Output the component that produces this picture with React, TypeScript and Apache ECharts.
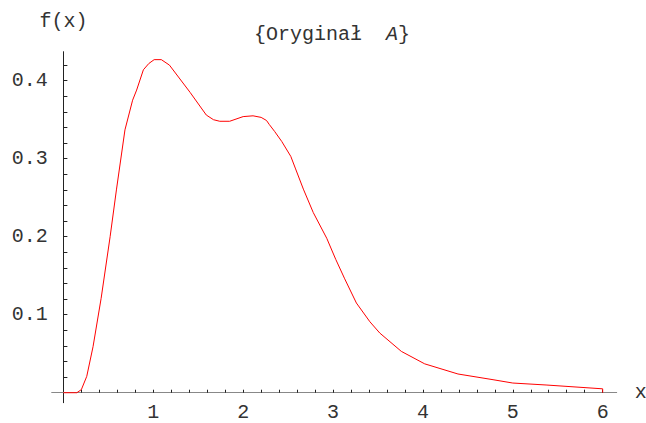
import React, { useEffect, useRef } from "react";
import * as echarts from "echarts";

const xs = [0, 0.15, 0.2, 0.26, 0.33, 0.42, 0.52, 0.59, 0.685, 0.77, 0.815, 0.89, 0.95, 1.01, 1.09, 1.18, 1.41, 1.59, 1.67, 1.74, 1.85, 2.0, 2.11, 2.2, 2.26, 2.29, 2.35, 2.43, 2.53, 2.58, 2.67, 2.78, 2.93, 3.03, 3.13, 3.26, 3.41, 3.52, 3.76, 4.02, 4.39, 4.78, 5.0, 5.37, 6.0, 6.0];
const ys = [0, 0, 0.004, 0.021, 0.059, 0.121, 0.2, 0.26, 0.337, 0.375, 0.388, 0.414, 0.422, 0.427, 0.427, 0.42, 0.385, 0.356, 0.35, 0.348, 0.348, 0.354, 0.355, 0.353, 0.349, 0.344, 0.335, 0.322, 0.303, 0.288, 0.261, 0.231, 0.198, 0.171, 0.146, 0.115, 0.091, 0.0765, 0.053, 0.037, 0.024, 0.0167, 0.0124, 0.0099, 0.005, 0];

const xTicks = [0.2, 0.4, 0.6, 0.8, 1, 1.2, 1.4, 1.6, 1.8, 2, 2.2, 2.4, 2.6, 2.8, 3, 3.2, 3.4, 3.6, 3.8, 4, 4.2, 4.4, 4.6, 4.8, 5, 5.2, 5.4, 5.6, 5.8, 6];
const xLabels = [1, 2, 3, 4, 5, 6];
const yTicks = [0.02, 0.04, 0.06, 0.08, 0.1, 0.12, 0.14, 0.16, 0.18, 0.2, 0.22, 0.24, 0.26, 0.28, 0.3, 0.32, 0.34, 0.36, 0.38, 0.4, 0.42];
const yLabels = [0.1, 0.2, 0.3, 0.4];

const FONT = "'Courier New', 'Liberation Mono', monospace";
const TXT = "#333";

export default function App() {
  const ref = useRef<HTMLDivElement>(null);
  useEffect(() => {
    const chart = echarts.init(ref.current!, null, { renderer: "svg" });
    chart.setOption({
      animation: false,
      backgroundColor: "#ffffff",
      title: {
        text: "{Oryginał  {i|A}}",
        left: 249,
        top: 19,
        textStyle: {
          fontFamily: FONT,
          fontSize: 20,
          fontWeight: "normal",
          color: TXT,
          rich: {
            i: { fontFamily: FONT, fontSize: 20, fontStyle: "italic", color: TXT },
          },
        },
      },
      grid: { left: 51.7, top: 51.7, width: 565, height: 351, containLabel: false, outerBoundsMode: "none" },
      xAxis: {
        type: "value",
        min: -0.13,
        max: 6.156,
        name: "x",
        nameLocation: "end",
        nameGap: 18,
        nameTextStyle: { fontFamily: FONT, fontSize: 20, color: TXT },
        splitLine: { show: false },
        axisLine: { show: true, onZero: true, lineStyle: { color: "#888", width: 1 } },
        axisTick: { show: true, inside: true, length: 3, customValues: xTicks, lineStyle: { color: "#222" } },
        axisLabel: {
          customValues: xLabels,
          margin: 0,
          fontFamily: FONT,
          fontSize: 20,
          color: TXT,
          formatter: (v: number) => String(v),
        },
      },
      yAxis: {
        type: "value",
        min: -0.0128,
        max: 0.4372,
        name: "f(x)",
        nameLocation: "end",
        nameGap: 20,
        nameTextStyle: { fontFamily: FONT, fontSize: 20, color: TXT, align: "center" },
        splitLine: { show: false },
        axisLine: { show: true, onZero: true, lineStyle: { color: "#222", width: 1 } },
        axisTick: { show: true, inside: true, length: 4, customValues: yTicks, lineStyle: { color: "#222" } },
        axisLabel: {
          customValues: yLabels,
          margin: 4,
          fontFamily: FONT,
          fontSize: 20,
          color: TXT,
          formatter: (v: number) => v.toFixed(1),
        },
      },
      series: [
        {
          type: "line",
          data: xs.map((x, i) => [x, ys[i]]),
          showSymbol: false,
          smooth: false,
          lineStyle: { color: "#ff0000", width: 1 },
          itemStyle: { color: "#ff0000" },
        },
      ],
    });
    return () => chart.dispose();
  }, []);
  return <div ref={ref} style={{ position: "fixed", left: 0, top: 0, width: 646, height: 423 }} />;
}
